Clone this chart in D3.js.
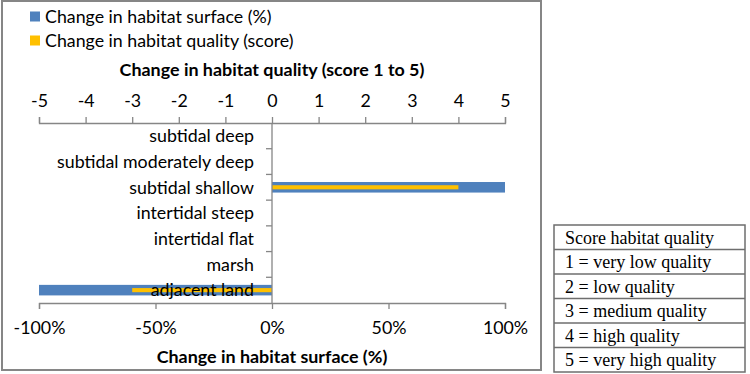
<!DOCTYPE html>
<html>
<head>
<meta charset="utf-8">
<script src="https://cdn.jsdelivr.net/npm/d3@7"></script>
<style>
  html, body { margin: 0; padding: 0; background: #fff; }
  svg { display: block; }
</style>
</head>
<body>
<svg id="chart" width="750" height="374"></svg>
<script>
// ---- data ----
const categories = ["subtidal deep", "subtidal moderately deep", "subtidal shallow",
  "intertidal steep", "intertidal flat", "marsh", "adjacent land"];
const surfaceChange = [0, 0, 1.0, 0, 0, 0, -1.0];     // fraction (-100%..100%)
const qualityChange = [0, 0, 4, 0, 0, 0, -3];          // score change
const surfaceTicks = [-1, -0.5, 0, 0.5, 1];
const qualityTicks = [-5, -4, -3, -2, -1, 0, 1, 2, 3, 4, 5];
const seriesNames = ["Change in habitat surface (%)", "Change in habitat quality (score)"];
const topTitle = "Change in habitat quality (score 1 to 5)";
const bottomTitle = "Change in habitat surface (%)";
const tableRows = ["Score habitat quality", "1 = very low quality", "2 = low quality",
  "3 = medium quality", "4 = high quality", "5 = very high quality"];

// ---- styles ----
const BLUE = "#4F81BD", YELLOW = "#FFC000", AXIS = "#868686", TEXT = "#000";
const FONT = "Lato, 'Open Sans', sans-serif";
const FS = 17.8;

const svg = d3.select("#chart");

// chart frame
svg.append("rect").attr("x", 2).attr("y", 1).attr("width", 539).attr("height", 369)
  .attr("fill", "#fff").attr("stroke", AXIS).attr("stroke-width", 2);

const xS = d3.scaleLinear().domain([-1, 1]).range([39, 505]);
const xQ = d3.scaleLinear().domain([-5, 5]).range([39, 505]);
const y = d3.scaleBand().domain(categories).range([123, 303]).padding(0);

// bars
const bw = y.bandwidth();
const blueH = bw * 0.41, yellowH = bw * 0.16;
svg.append("g").selectAll("rect").data(categories).join("rect")
  .attr("x", (d, i) => Math.min(xS(0), xS(surfaceChange[i])))
  .attr("width", (d, i) => Math.abs(xS(surfaceChange[i]) - xS(0)))
  .attr("y", d => y(d) + bw / 2 - blueH / 2)
  .attr("height", blueH)
  .attr("fill", BLUE);
svg.append("g").selectAll("rect").data(categories).join("rect")
  .attr("x", (d, i) => Math.min(xQ(0), xQ(qualityChange[i])))
  .attr("width", (d, i) => Math.abs(xQ(qualityChange[i]) - xQ(0)))
  .attr("y", d => y(d) + bw / 2 - yellowH / 2)
  .attr("height", yellowH)
  .attr("fill", YELLOW);

const hyphen = s => s.replace("\u2212", "-");
// bottom axis (surface %)
const bottomAxis = svg.append("g").attr("transform", "translate(0,303)")
  .call(d3.axisBottom(xS).tickValues(surfaceTicks)
    .tickFormat(d => hyphen(d3.format(".0%")(d)))
    .tickSize(6).tickPadding(12));
// top axis (quality score)
const topAxis = svg.append("g").attr("transform", "translate(0,123)")
  .call(d3.axisTop(xQ).tickValues(qualityTicks).tickFormat(d => String(d))
    .tickSize(6).tickPadding(12));
[bottomAxis, topAxis].forEach(g => {
  g.select(".domain").attr("stroke", AXIS).attr("stroke-width", 1.3);
  g.selectAll(".tick line").attr("stroke", AXIS).attr("stroke-width", 1.3);
  g.selectAll(".tick text").attr("font-family", FONT).attr("font-size", FS)
    .attr("fill", TEXT);
});
topAxis.selectAll(".tick text").attr("dy", "0.1em");

// vertical category axis at x=0 — labels drawn over bars
const leftAxis = svg.append("g").attr("transform", `translate(${xS(0)},0)`);
leftAxis.append("line").attr("x1", 0).attr("x2", 0).attr("y1", 123).attr("y2", 303)
  .attr("stroke", AXIS).attr("stroke-width", 1.3);
const boundaries = categories.slice(1).map(c => y(c));
leftAxis.selectAll("line.tk").data(boundaries).join("line").attr("class", "tk")
  .attr("x1", -6).attr("x2", 0).attr("y1", d => d).attr("y2", d => d)
  .attr("stroke", AXIS).attr("stroke-width", 1.3);
leftAxis.selectAll("text").data(categories).join("text")
  .attr("x", -18).attr("y", d => y(d) + bw / 2)
  .attr("dy", "0.35em").attr("text-anchor", "end")
  .attr("font-family", FONT).attr("font-size", FS).attr("fill", TEXT)
  .text(d => d);

// titles
svg.append("text").attr("x", 272).attr("y", 70).attr("dy", "0.35em")
  .attr("text-anchor", "middle").attr("font-family", FONT).attr("font-weight", "bold")
  .attr("font-size", 17.9).attr("fill", TEXT).text(topTitle);
svg.append("text").attr("x", 272).attr("y", 357).attr("dy", "0.35em")
  .attr("text-anchor", "middle").attr("font-family", FONT).attr("font-weight", "bold")
  .attr("font-size", 17.9).attr("fill", TEXT).text(bottomTitle);

// legend
const legend = svg.append("g");
const legendColors = [BLUE, YELLOW];
seriesNames.forEach((name, i) => {
  const cy = 16.5 + i * 24;
  legend.append("rect").attr("x", 30).attr("y", cy - 5).attr("width", 10).attr("height", 10)
    .attr("fill", legendColors[i]);
  legend.append("text").attr("x", 45).attr("y", cy).attr("dy", "0.35em")
    .attr("font-family", FONT).attr("font-size", FS).attr("fill", TEXT).text(name);
});

// score table
const tX = 554, tW = 191, tY = 225, rowH = 24.5;
const table = svg.append("g");
table.append("rect").attr("x", tX).attr("y", tY).attr("width", tW)
  .attr("height", rowH * tableRows.length)
  .attr("fill", "#fff").attr("stroke", "#6e6e6e").attr("stroke-width", 1.5);
tableRows.forEach((r, i) => {
  if (i > 0) table.append("line").attr("x1", tX).attr("x2", tX + tW)
    .attr("y1", tY + i * rowH).attr("y2", tY + i * rowH)
    .attr("stroke", "#6e6e6e").attr("stroke-width", 1.5);
  table.append("text").attr("x", tX + 11).attr("y", tY + i * rowH + rowH / 2)
    .attr("dy", "0.35em").attr("font-family", "'Liberation Serif', 'Times New Roman', serif")
    .attr("font-size", 18).attr("fill", TEXT).text(r);
});
</script>
</body>
</html>
